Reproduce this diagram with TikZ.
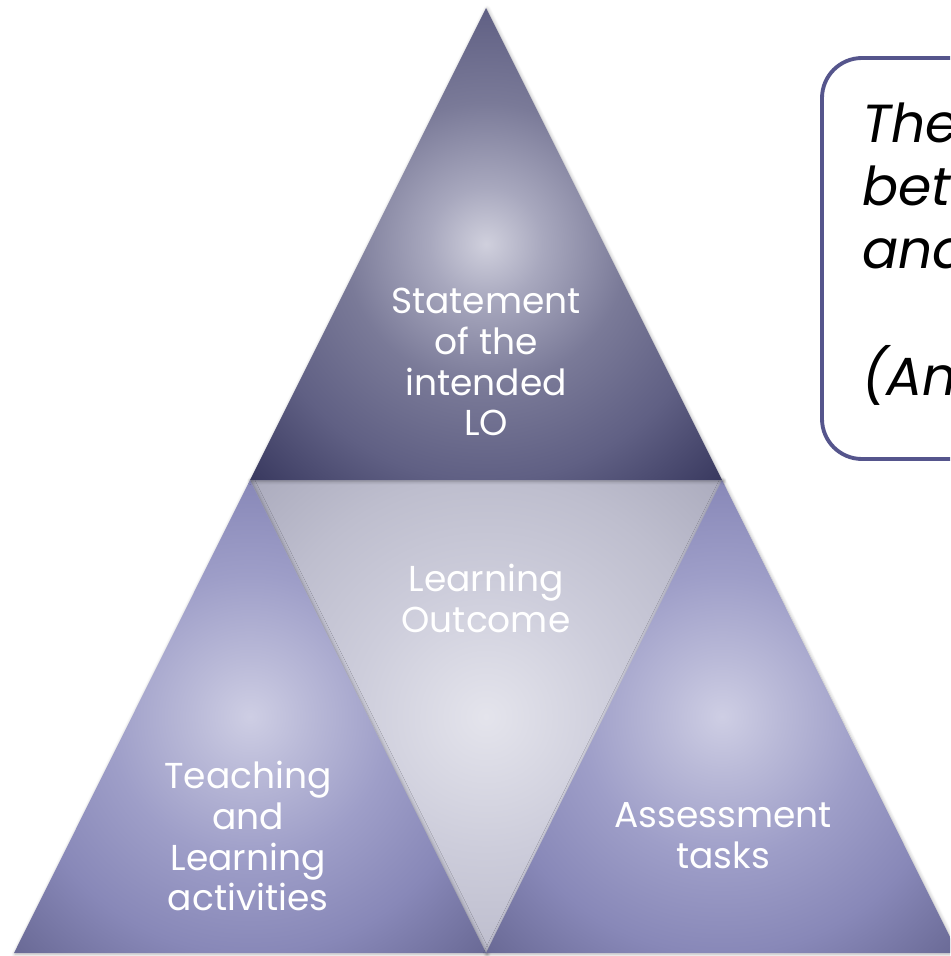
\documentclass[tikz,border=0pt]{standalone}
\usepackage{fontspec}
\setmainfont{Poppins}
\usepackage{xcolor}
\usetikzlibrary{shadows.blur}

\definecolor{boxline}{HTML}{55558C}

% soft glow shadings, 25bp = half the triangle's height
\pgfdeclareradialshading{topglow}{\pgfpoint{0bp}{0bp}}{%
  color(0bp)=(rgb,255:red,208;green,208;blue,221);
  color(6bp)=(rgb,255:red,168;green,168;blue,190);
  color(15bp)=(rgb,255:red,122;green,122;blue,152);
  color(25bp)=(rgb,255:red,96;green,96;blue,132);
  color(35bp)=(rgb,255:red,58;green,58;blue,96);
  color(50bp)=(rgb,255:red,58;green,58;blue,96)}
\pgfdeclareradialshading{midglow}{\pgfpoint{0bp}{0bp}}{%
  color(0bp)=(rgb,255:red,228;green,228;blue,236);
  color(14bp)=(rgb,255:red,205;green,205;blue,219);
  color(25bp)=(rgb,255:red,190;green,190;blue,206);
  color(35bp)=(rgb,255:red,172;green,172;blue,190);
  color(50bp)=(rgb,255:red,172;green,172;blue,190)}
\pgfdeclareradialshading{sideglow}{\pgfpoint{0bp}{0bp}}{%
  color(0bp)=(rgb,255:red,206;green,206;blue,228);
  color(6bp)=(rgb,255:red,186;green,186;blue,216);
  color(15bp)=(rgb,255:red,158;green,158;blue,200);
  color(25bp)=(rgb,255:red,136;green,136;blue,184);
  color(35bp)=(rgb,255:red,106;green,106;blue,150);
  color(50bp)=(rgb,255:red,106;green,106;blue,150)}

\tikzset{
  tri/.style={blur shadow={shadow blur steps=6, shadow xshift=0.6pt, shadow yshift=-0.6pt, shadow opacity=30}},
  tritext/.style={text=white, align=center, inner sep=0pt, font=\fontsize{20.5}{23.3}\selectfont},
  quotebox/.style={draw=boxline, line width=2.2pt, fill=white, rounded corners=0.8cm},
  quotetext/.style={inner sep=0pt, anchor=base west, font=\fontsize{30.5}{36}\selectfont\itshape}
}

\begin{document}
\begin{tikzpicture}[x=0.02cm, y=-0.02cm]
\useasboundingbox (0,0) rectangle (950,956);
\clip (0,0) rectangle (950,956);

% corners of the pyramid
\coordinate (apex) at (486,8);
\coordinate (ml) at (250,480);
\coordinate (mr) at (722,480);
\coordinate (bl) at (14,953);
\coordinate (bm) at (486,953);
\coordinate (br) at (958,953);

% the four triangles
\shade[tri, shading=midglow] (ml) -- (mr) -- (bm) -- cycle;
\shade[tri, shading=sideglow] (ml) -- (bm) -- (bl) -- cycle;
\shade[tri, shading=sideglow] (mr) -- (br) -- (bm) -- cycle;
\shade[tri, shading=topglow] (apex) -- (mr) -- (ml) -- cycle;

\node (statement) [tritext] at (486,362) {Statement\\of the\\intended\\LO};
\node (outcome) [tritext] at (486,598) {Learning\\Outcome};
\node (teaching) [tritext] at (248,836) {Teaching\\and\\Learning\\activities};
\node (assessment) [tritext] at (723,836) {Assessment\\tasks};

% quotation box, cut by the page edge
\draw[quotebox] (822,58) rectangle (1010,459);
\node (quote1) [quotetext] at (862,143) {The};
\node (quote2) [quotetext] at (862,206) {bet};
\node (quote3) [quotetext] at (862,268) {and};
\node (quote4) [quotetext] at (862,395) {(And};
\end{tikzpicture}
\end{document}
